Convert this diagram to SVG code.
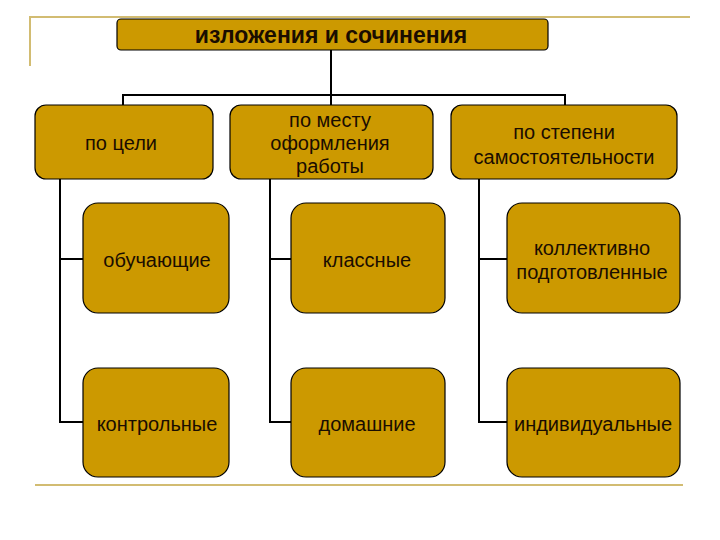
<svg xmlns="http://www.w3.org/2000/svg" width="720" height="540" viewBox="0 0 720 540">
<style>
.box{fill:#cc9900;stroke:#000;stroke-width:1.2}
.t{font-family:"Liberation Sans",Arial,sans-serif;font-size:20px;fill:#1a0d00;text-anchor:middle}
.tb{font-family:"Liberation Sans",Arial,sans-serif;font-size:23px;font-weight:bold;fill:#1a0d00;text-anchor:middle}
.c{fill:none;stroke:#000;stroke-width:2}
.deco{fill:none;stroke:#d2bc72;stroke-width:2}
</style>
<rect width="720" height="540" fill="#fff"/>
<g id="decor">
<path class="deco" d="M30 66V17H690"/>
<path class="deco" d="M35 485H683" stroke-width="3"/>
</g>
<g id="connectors">
<path class="c" d="M331 50V95M123 105V95H565V105M331 95V105"/>
<path class="c" d="M60 179V422H83M60 259H83"/>
<path class="c" d="M270 179V422H291M270 259H291"/>
<path class="c" d="M479 179V422H507M479 259H507"/>
</g>
<g id="root"><rect class="box" x="117" y="19" width="431" height="31" rx="4"/><text class="tb" x="331" y="43">изложения и сочинения</text></g>
<g id="n1"><rect class="box" x="35" y="105" width="178" height="74" rx="11"/><text class="t" x="121" y="150">по цели</text></g>
<g id="n2"><rect class="box" x="230" y="105" width="203" height="74" rx="11"/><text class="t" x="330" y="127">по месту</text><text class="t" x="330" y="150">оформления</text><text class="t" x="330" y="173">работы</text></g>
<g id="n3"><rect class="box" x="451" y="105" width="226" height="74" rx="11"/><text class="t" x="564" y="139">по степени</text><text class="t" x="564" y="164">самостоятельности</text></g>
<g id="n4"><rect class="box" x="83" y="203" width="146" height="110" rx="15"/><text class="t" x="157" y="267">обучающие</text></g>
<g id="n5"><rect class="box" x="291" y="203" width="154" height="110" rx="15"/><text class="t" x="367" y="267">классные</text></g>
<g id="n6"><rect class="box" x="507" y="203" width="173" height="110" rx="15"/><text class="t" x="592" y="255">коллективно</text><text class="t" x="592" y="279">подготовленные</text></g>
<g id="n7"><rect class="box" x="83" y="368" width="146" height="109" rx="15"/><text class="t" x="157" y="431">контрольные</text></g>
<g id="n8"><rect class="box" x="291" y="368" width="154" height="109" rx="15"/><text class="t" x="367" y="431">домашние</text></g>
<g id="n9"><rect class="box" x="507" y="368" width="173" height="109" rx="15"/><text class="t" x="593" y="431">индивидуальные</text></g>
</svg>
